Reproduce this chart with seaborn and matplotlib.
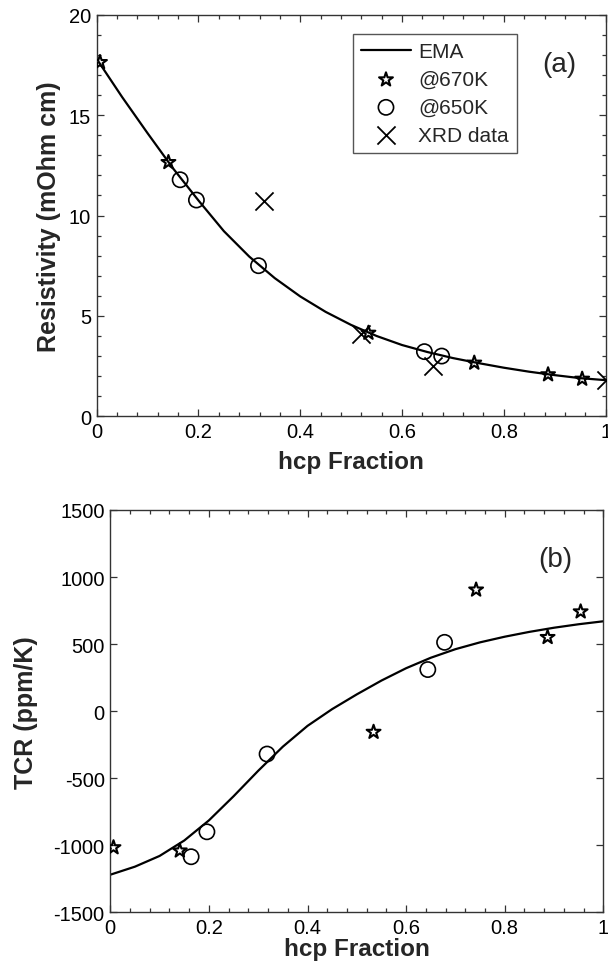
import numpy as np
import pandas as pd
import matplotlib
matplotlib.use("Agg")
import matplotlib.pyplot as plt
from matplotlib.ticker import MultipleLocator
import seaborn as sns

# Datos
# (a) resistividad frente a fraccion hcp
ema_x = [0.0, 0.05, 0.1, 0.15, 0.2, 0.25, 0.3, 0.35, 0.4, 0.45, 0.5,
         0.55, 0.6, 0.65, 0.7, 0.75, 0.8, 0.85, 0.9, 0.95, 1.0]
ema_rho = [17.8, 15.9, 14.1, 12.35, 10.75, 9.22, 7.95, 6.88, 5.97, 5.2, 4.55,
           4.0, 3.55, 3.2, 2.9, 2.65, 2.42, 2.22, 2.05, 1.9, 1.8]
s670_x = [0.0065, 0.141, 0.534, 0.742, 0.887, 0.954]
s670_rho = [17.63, 12.65, 4.15, 2.66, 2.08, 1.86]
s650_x = [0.164, 0.196, 0.318, 0.644, 0.678]
s650_rho = [11.78, 10.77, 7.5, 3.22, 3.0]
xrd_x = [0.329, 0.519, 0.661, 1.0]
xrd_rho = [10.74, 4.1, 2.5, 1.83]

# (b) TCR frente a fraccion hcp
ema_tcr = [-1220, -1160, -1080, -965, -815, -635, -445, -265, -110, 15, 125,
           228, 320, 398, 462, 513, 555, 591, 622, 648, 670]
s670_tcr = [-1017, -1041, -156, 905, 551, 742]
s650_tcr = [-1086, -900, -320, 310, 513]

# Ticks
x_ticks = [0, 0.2, 0.4, 0.6, 0.8, 1]
x_ticklabels = ["0", "0.2", "0.4", "0.6", "0.8", "1"]
rho_ticks = [0, 5, 10, 15, 20]
tcr_ticks = [-1500, -1000, -500, 0, 500, 1000, 1500]

sns.set_theme(style="ticks")
plt.rcParams['font.family'] = ['Liberation Sans', 'DejaVu Sans']
plt.rcParams['axes.unicode_minus'] = False

fig = plt.figure(figsize=(6.08, 9.70), dpi=100)
ax1 = fig.add_axes([0.159, 0.5698, 0.996 - 0.159, 0.9838 - 0.5698])
ax2 = fig.add_axes([0.1814, 0.0585, 0.9923 - 0.1814, 0.4732 - 0.0585])

def marcadores(ax, x, y1, y2):
    sns.scatterplot(x=x[0], y=y1, ax=ax, marker='*', s=110, facecolor='none',
                    edgecolor='black', linewidth=1.5, label='@670K', zorder=3)
    sns.scatterplot(x=x[1], y=y2, ax=ax, marker='o', s=120, facecolor='none',
                    edgecolor='black', linewidth=1.2, label='@650K', zorder=3)

# Panel (a)
sns.lineplot(x=ema_x, y=ema_rho, ax=ax1, color='black', lw=1.6, label='EMA')
marcadores(ax1, (s670_x, s650_x), s670_rho, s650_rho)
sns.scatterplot(x=xrd_x, y=xrd_rho, ax=ax1, marker='x', s=170, color='black',
                linewidth=1.3, label='XRD data', zorder=3)
ax1.set_xlim(0, 1)
ax1.set_ylim(0, 20)
ax1.set_yticks(rho_ticks)
ax1.yaxis.set_minor_locator(MultipleLocator(1))
ax1.set_xlabel('hcp Fraction', fontsize=17.5, fontweight='bold')
ax1.set_ylabel('Resistivity (mOhm cm)', fontsize=18, fontweight='bold')
ax1.xaxis.set_label_coords(0.5, -0.085)
ax1.yaxis.set_label_coords(-0.070, 0.5)
ax1.text(0.91, 0.877, '(a)', transform=ax1.transAxes, fontsize=20,
         ha='center', va='center')
leg = ax1.legend(loc='upper left', bbox_to_anchor=(0.503, 0.952),
                 borderaxespad=0, fontsize=15, frameon=True, fancybox=False,
                 framealpha=1, edgecolor='#555555', labelspacing=0.42,
                 borderpad=0.4, handlelength=2.4, handletextpad=0.35)
leg.get_frame().set_linewidth(1.0)

# Panel (b)
sns.lineplot(x=ema_x, y=ema_tcr, ax=ax2, color='black', lw=1.6)
marcadores(ax2, (s670_x, s650_x), s670_tcr, s650_tcr)
if ax2.get_legend() is not None:
    ax2.get_legend().remove()
ax2.set_xlim(0, 1)
ax2.set_ylim(-1500, 1500)
ax2.set_yticks(tcr_ticks)
ax2.set_xlabel('hcp Fraction', fontsize=17.5, fontweight='bold')
ax2.set_ylabel('TCR (ppm/K)', fontsize=18, fontweight='bold')
ax2.xaxis.set_label_coords(0.5, -0.062)
ax2.yaxis.set_label_coords(-0.147, 0.5)
ax2.text(0.902, 0.878, '(b)', transform=ax2.transAxes, fontsize=20,
         ha='center', va='center')

for ax in (ax1, ax2):
    ax.set_xticks(x_ticks)
    ax.set_xticklabels(x_ticklabels)
    ax.xaxis.set_minor_locator(MultipleLocator(0.04))
    ax.tick_params(which='both', direction='in', top=True, right=True,
                   colors='#333333', labelcolor='black', labelsize=14.5, pad=4)
    ax.tick_params(which='major', length=5, width=0.9)
    ax.tick_params(which='minor', length=3, width=0.9)
    for sp in ax.spines.values():
        sp.set_visible(True)
        sp.set_color('#333333')
        sp.set_linewidth(1.0)
ax2.tick_params(axis='y', which='minor', left=False, right=False)

fig.savefig('out.png', dpi=100)
